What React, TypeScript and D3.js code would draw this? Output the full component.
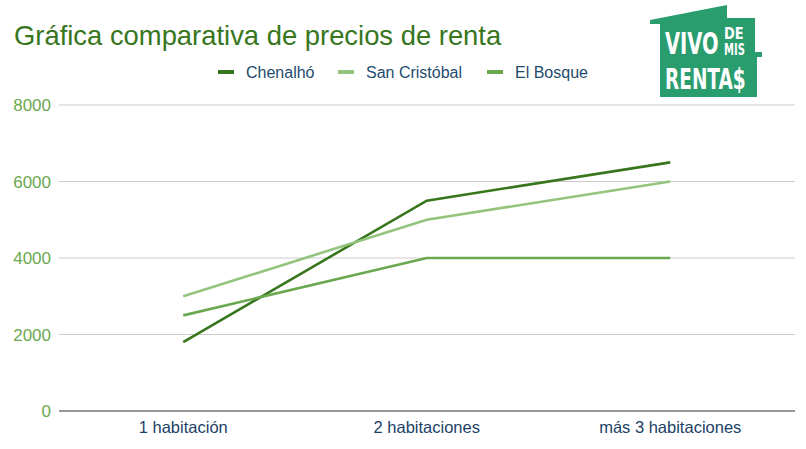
import React from "react";
import * as d3 from "d3";

const categories = ["1 habitación", "2 habitaciones", "más 3 habitaciones"];
const seriesNames = ["Chenalhó", "San Cristóbal", "El Bosque"];
const chenalho = [1800, 5500, 6500];
const sanCristobal = [3000, 5000, 6000];
const elBosque = [2500, 4000, 4000];
const yTicks = [0, 2000, 4000, 6000, 8000];
const colors = ["#38761d", "#93c47d", "#6aa84f"];

const W = 806;
const H = 449;
const left = 61.5;
const right = 792;
const top = 105;
const bottom = 411;

export default function App() {
  const x = d3.scaleBand<string>().domain(categories).range([left, right]);
  const y = d3.scaleLinear().domain([0, 8000]).range([bottom, top]);
  const line = d3
    .line<number>()
    .x((_, i) => (x(categories[i]) as number) + x.bandwidth() / 2)
    .y((d) => y(d));
  const series = [chenalho, sanCristobal, elBosque];
  const legendX = [218, 338, 487];
  const font = "'Liberation Sans', Arial, sans-serif";
  const logoFont = "'DejaVu Sans', sans-serif";

  return (
    <svg width={W} height={H} style={{ position: "absolute", left: 0, top: 0, background: "#fff" }} fontFamily={font}>
      <rect x={0} y={0} width={W} height={H} fill="#fff" />
      <text x={14} y={45} fontSize={27.4} fill="#38761d">
        Gráfica comparativa de precios de renta
      </text>
      {seriesNames.map((n, i) => (
        <g key={n}>
          <rect x={legendX[i]} y={70} width={16} height={4} fill={colors[i]} />
          <text x={legendX[i] + 28} y={78} fontSize={16} fill="#1e4b6e">
            {n}
          </text>
        </g>
      ))}
      {yTicks.map((t) => (
        <g key={t}>
          {t !== 0 && (
            <line x1={59} x2={795} y1={y(t)} y2={y(t)} stroke="#cccccc" strokeWidth={1} />
          )}
          <text x={51} y={y(t) + 6} fontSize={17} fill="#6aa84f" textAnchor="end">
            {t}
          </text>
        </g>
      ))}
      <line x1={59} x2={795} y1={y(0)} y2={y(0)} stroke="#333" strokeWidth={1.2} />
      {categories.map((c) => (
        <text key={c} x={(x(c) as number) + x.bandwidth() / 2} y={433} fontSize={16.5} fill="#1c3f66" textAnchor="middle">
          {c}
        </text>
      ))}
      {series.map((s, i) => (
        <path key={i} d={line(s) as string} fill="none" stroke={colors[i]} strokeWidth={2.6} />
      ))}
      {/* logo */}
      <g fontFamily={logoFont} fontWeight="bold" fill="#fff">
        <polygon
          points="650,24 650,20 727,5 727,18 755,18 755,52 762,52 762,57 757,57 757,97 660,97 660,24"
          fill="#2a9d6f"
        />
        <text transform="translate(665,54) scale(1,1.55)" fontSize={19.5}>
          VIVO
        </text>
        <text transform="translate(724,39) scale(1,1.25)" fontSize={13}>
          DE
        </text>
        <text transform="translate(724,55) scale(1,1.5)" fontSize={10}>
          MIS
        </text>
        <text transform="translate(665,89) scale(1,1.5)" fontSize={18.5}>
          RENTA$
        </text>
      </g>
    </svg>
  );
}
